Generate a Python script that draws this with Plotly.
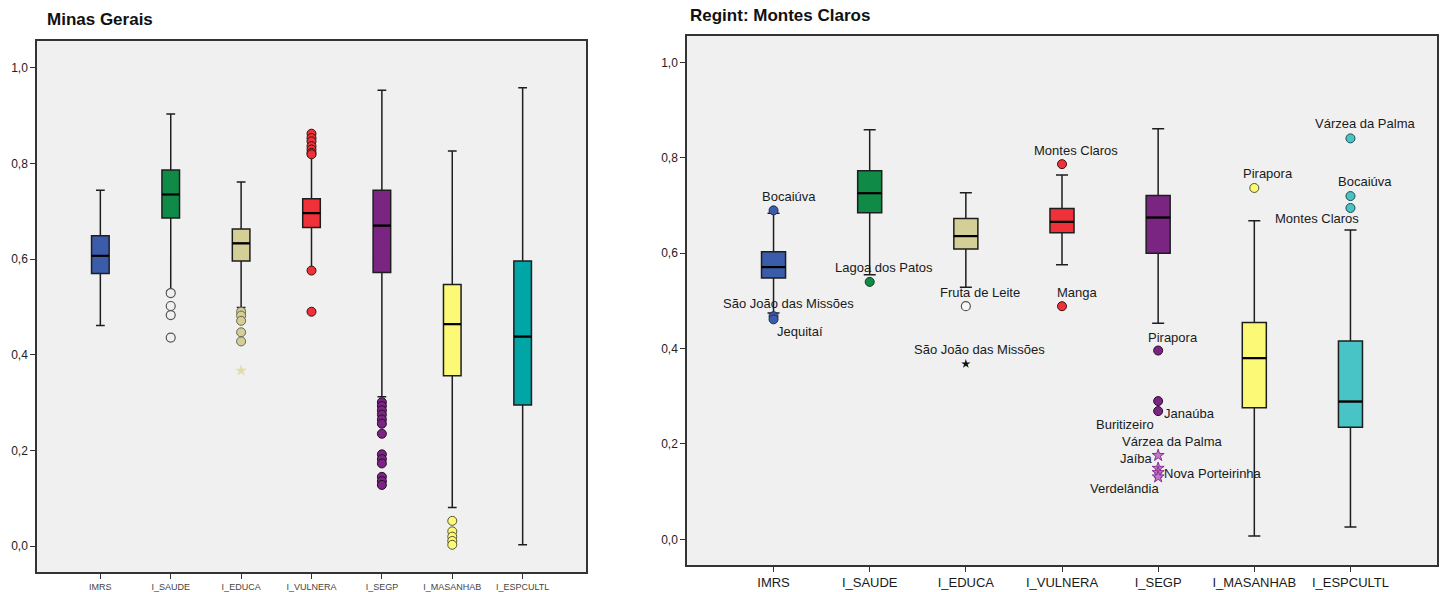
import plotly.graph_objects as go

categories = ["IMRS", "I_SAUDE", "I_EDUCA", "I_VULNERA", "I_SEGP", "I_MASANHAB", "I_ESPCULTL"]
y_ticks = [0.0, 0.2, 0.4, 0.6, 0.8, 1.0]
y_tick_labels = ["0,0", "0,2", "0,4", "0,6", "0,8", "1,0"]

# ---------------- Minas Gerais (left) ----------------
mg_lowfence = [0.461, 0.534, 0.499, 0.580, 0.3125, 0.081, 0.003]
mg_q1 = [0.570, 0.686, 0.596, 0.666, 0.572, 0.356, 0.295]
mg_median = [0.607, 0.735, 0.633, 0.696, 0.670, 0.464, 0.438]
mg_q3 = [0.649, 0.786, 0.663, 0.726, 0.744, 0.547, 0.596]
mg_upfence = [0.744, 0.903, 0.761, 0.815, 0.953, 0.826, 0.958]

mg_saude_out = [0.529, 0.502, 0.483, 0.436]
mg_educa_out = [0.490, 0.482, 0.471, 0.447, 0.428]
mg_educa_ext = [0.367]
mg_vulnera_out = [0.862, 0.853, 0.846, 0.836, 0.829, 0.822, 0.819, 0.576, 0.490]
mg_segp_out = [0.301, 0.293, 0.284, 0.275, 0.265, 0.256, 0.235, 0.192, 0.182, 0.173, 0.145, 0.136, 0.128]
mg_masanhab_out = [0.053, 0.031, 0.020, 0.011, 0.003]

# ---------------- Regint: Montes Claros (right) ----------------
mc_lowfence = [0.475, 0.555, 0.529, 0.576, 0.453, 0.007, 0.026]
mc_q1 = [0.548, 0.685, 0.609, 0.643, 0.600, 0.276, 0.235]
mc_median = [0.571, 0.726, 0.636, 0.666, 0.675, 0.380, 0.289]
mc_q3 = [0.603, 0.773, 0.673, 0.694, 0.721, 0.455, 0.416]
mc_upfence = [0.684, 0.859, 0.727, 0.764, 0.861, 0.668, 0.649]

mc_imrs_out = [0.690, 0.468, 0.4615]
mc_imrs_names = ["Bocaiúva", "São João das Missões", "Jequitaí"]
mc_saude_out = [0.540]
mc_saude_names = ["Lagoa dos Patos"]
mc_educa_out = [0.489]
mc_educa_names = ["Fruta de Leite"]
mc_educa_ext = [0.368]
mc_educa_ext_names = ["São João das Missões"]
mc_vulnera_out = [0.787, 0.489]
mc_vulnera_names = ["Montes Claros", "Manga"]
mc_segp_out = [0.396, 0.290, 0.269]
mc_segp_names = ["Pirapora", "Buritizeiro", "Janaúba"]
mc_segp_ext = [0.176, 0.149, 0.140, 0.131]
mc_segp_ext_names = ["Várzea da Palma", "Jaíba", "Nova Porteirinha", "Verdelândia"]
mc_masanhab_out = [0.737]
mc_masanhab_names = ["Pirapora"]
mc_espcultl_out = [0.841, 0.720, 0.695]
mc_espcultl_names = ["Várzea da Palma", "Bocaiúva", "Montes Claros"]

# ---------------- styling ----------------
colors_left = ["#3b5bab", "#0f8a47", "#d4cf97", "#ef3239", "#7a2582", "#fbf976", "#00a5a5"]
colors_right = ["#3b5bab", "#0f8a47", "#d4cf97", "#ef3239", "#7a2582", "#fbf976", "#48c3c6"]
BOX_W = 0.25
FONT = "Liberation Sans, Arial, sans-serif"

fig = go.Figure()


def add_boxes(xa, ya, lows, q1s, meds, q3s, highs, colors):
    for i, cat in enumerate(categories):
        fig.add_trace(go.Box(
            x=[i], q1=[q1s[i]], median=[meds[i]], q3=[q3s[i]],
            lowerfence=[lows[i]], upperfence=[highs[i]],
            width=BOX_W, whiskerwidth=0.5, boxpoints=False,
            fillcolor=colors[i], line=dict(color="#1e1e1e", width=1.5),
            xaxis=xa, yaxis=ya, showlegend=False, hoverinfo="skip"))
        # thicker black median line
        fig.add_trace(go.Scatter(
            x=[i - BOX_W / 2, i + BOX_W / 2], y=[meds[i], meds[i]], mode="lines",
            line=dict(color="#000000", width=2.2), xaxis=xa, yaxis=ya,
            showlegend=False, hoverinfo="skip"))


def add_points(xa, ya, idx, vals, fill, edge="#333333", symbol="circle", size=9, lw=1):
    fig.add_trace(go.Scatter(
        x=[idx] * len(vals), y=vals, mode="markers",
        marker=dict(symbol=symbol, size=size, color=fill, line=dict(color=edge, width=lw)),
        xaxis=xa, yaxis=ya, showlegend=False, hoverinfo="skip"))


# left panel
add_boxes("x", "y", mg_lowfence, mg_q1, mg_median, mg_q3, mg_upfence, colors_left)
add_points("x", "y", 1, mg_saude_out, "#f0f0f0", edge="#555555", lw=1.2)
add_points("x", "y", 2, mg_educa_out, colors_left[2], edge="#666655")
add_points("x", "y", 2, mg_educa_ext, "#e2dca8", edge="#e2dca8", symbol="star", size=9, lw=0)
add_points("x", "y", 3, mg_vulnera_out, colors_left[3], edge="#3a1010")
add_points("x", "y", 4, mg_segp_out, colors_left[4], edge="#2a0a2a")
add_points("x", "y", 5, mg_masanhab_out, colors_left[5], edge="#555533")

# right panel
add_boxes("x2", "y2", mc_lowfence, mc_q1, mc_median, mc_q3, mc_upfence, colors_right)
add_points("x2", "y2", 0, mc_imrs_out, colors_right[0], edge="#1e2a55")
add_points("x2", "y2", 1, mc_saude_out, colors_right[1], edge="#0a3a20")
add_points("x2", "y2", 2, mc_educa_out, "#f8f8f8", edge="#555555", lw=1.2)
add_points("x2", "y2", 2, mc_educa_ext, "#111111", edge="#111111", symbol="star", size=7, lw=0)
add_points("x2", "y2", 3, mc_vulnera_out, colors_right[3], edge="#3a1010")
add_points("x2", "y2", 4, mc_segp_out, colors_right[4], edge="#2a0a2a")
add_points("x2", "y2", 4, mc_segp_ext, "#c07ac8", edge="#8a2f92", symbol="star", size=9, lw=1)
add_points("x2", "y2", 5, mc_masanhab_out, colors_right[5], edge="#555533")
add_points("x2", "y2", 6, mc_espcultl_out, colors_right[6], edge="#1e4a4a")

# point labels (pixel offsets relative to the point: dx right, dy up)
label_groups = [
    (0, mc_imrs_out, mc_imrs_names, [(15, 14, "center"), (15, 13, "center"), (26, -12, "center")]),
    (1, mc_saude_out, mc_saude_names, [(14, 14, "center")]),
    (2, mc_educa_out, mc_educa_names, [(14, 14, "center")]),
    (2, mc_educa_ext, mc_educa_ext_names, [(14, 14, "center")]),
    (3, mc_vulnera_out, mc_vulnera_names, [(14, 14, "center"), (15, 14, "center")]),
    (4, mc_segp_out, mc_segp_names, [(15, 13, "center"), (-33, -23, "center"), (4, -2, "left")]),
    (4, mc_segp_ext, mc_segp_ext_names, [(14, 14, "center"), (-3, 10, "right"), (4, -1, "left"), (-34, -12, "center")]),
    (5, mc_masanhab_out, mc_masanhab_names, [(14, 14, "center")]),
    (6, mc_espcultl_out, mc_espcultl_names, [(15, 15, "center"), (15, 15, "center"), (-33, -11, "center")]),
]
annotations = []
for idx, vals, names, offs in label_groups:
    for v, n, (dx, dy, anc) in zip(vals, names, offs):
        annotations.append(dict(
            x=idx, y=v, xref="x2", yref="y2", text=n, showarrow=False,
            xshift=dx, yshift=dy, xanchor=anc, yanchor="middle",
            font=dict(family=FONT, size=13, color="#1a1a1a")))

# titles
annotations.append(dict(x=45 / 1446, y=1 - 20 / 592, xref="paper", yref="paper", text="<b>Minas Gerais</b>",
                        showarrow=False, xanchor="left", yanchor="middle",
                        font=dict(family=FONT, size=17, color="#111111")))
annotations.append(dict(x=688 / 1446, y=1 - 16 / 592, xref="paper", yref="paper",
                        text="<b>Regint: Montes Claros</b>",
                        showarrow=False, xanchor="left", yanchor="middle",
                        font=dict(family=FONT, size=17, color="#111111")))

W, H = 1446, 592
common_x = dict(range=[-0.9, 6.9], tickmode="array", tickvals=list(range(len(categories))),
                ticktext=categories, ticks="outside", ticklen=5, tickcolor="#333333",
                showline=True, mirror=True, linecolor="#333333", linewidth=1.5,
                showgrid=False, zeroline=False, fixedrange=True)
common_y = dict(range=[-0.054, 1.056], tickmode="array", tickvals=y_ticks, ticktext=y_tick_labels,
                ticks="outside", ticklen=5, tickcolor="#333333",
                showline=True, mirror=True, linecolor="#333333", linewidth=1.5,
                showgrid=False, zeroline=False, fixedrange=True,
                tickfont=dict(family=FONT, size=12, color="#222222"))

fig.update_layout(
    width=W, height=H,
    margin=dict(l=0, r=0, t=0, b=0),
    paper_bgcolor="white", plot_bgcolor="#f0f0f0",
    showlegend=False,
    annotations=annotations,
    xaxis=dict(common_x, domain=[37 / W, 586 / W], anchor="y",
               tickfont=dict(family=FONT, size=9, color="#444444")),
    yaxis=dict(common_y, domain=[(H - 574) / H, (H - 41) / H], anchor="x"),
    xaxis2=dict(common_x, domain=[687 / W, 1437 / W], anchor="y2",
                tickfont=dict(family=FONT, size=13, color="#1a1a1a")),
    yaxis2=dict(common_y, domain=[(H - 567) / H, (H - 36) / H], anchor="x2"),
)

fig.write_html(
    "out.html",
    config={"displayModeBar": False},
    post_script="document.body.style.margin='0';document.body.style.overflow='hidden';",
)
